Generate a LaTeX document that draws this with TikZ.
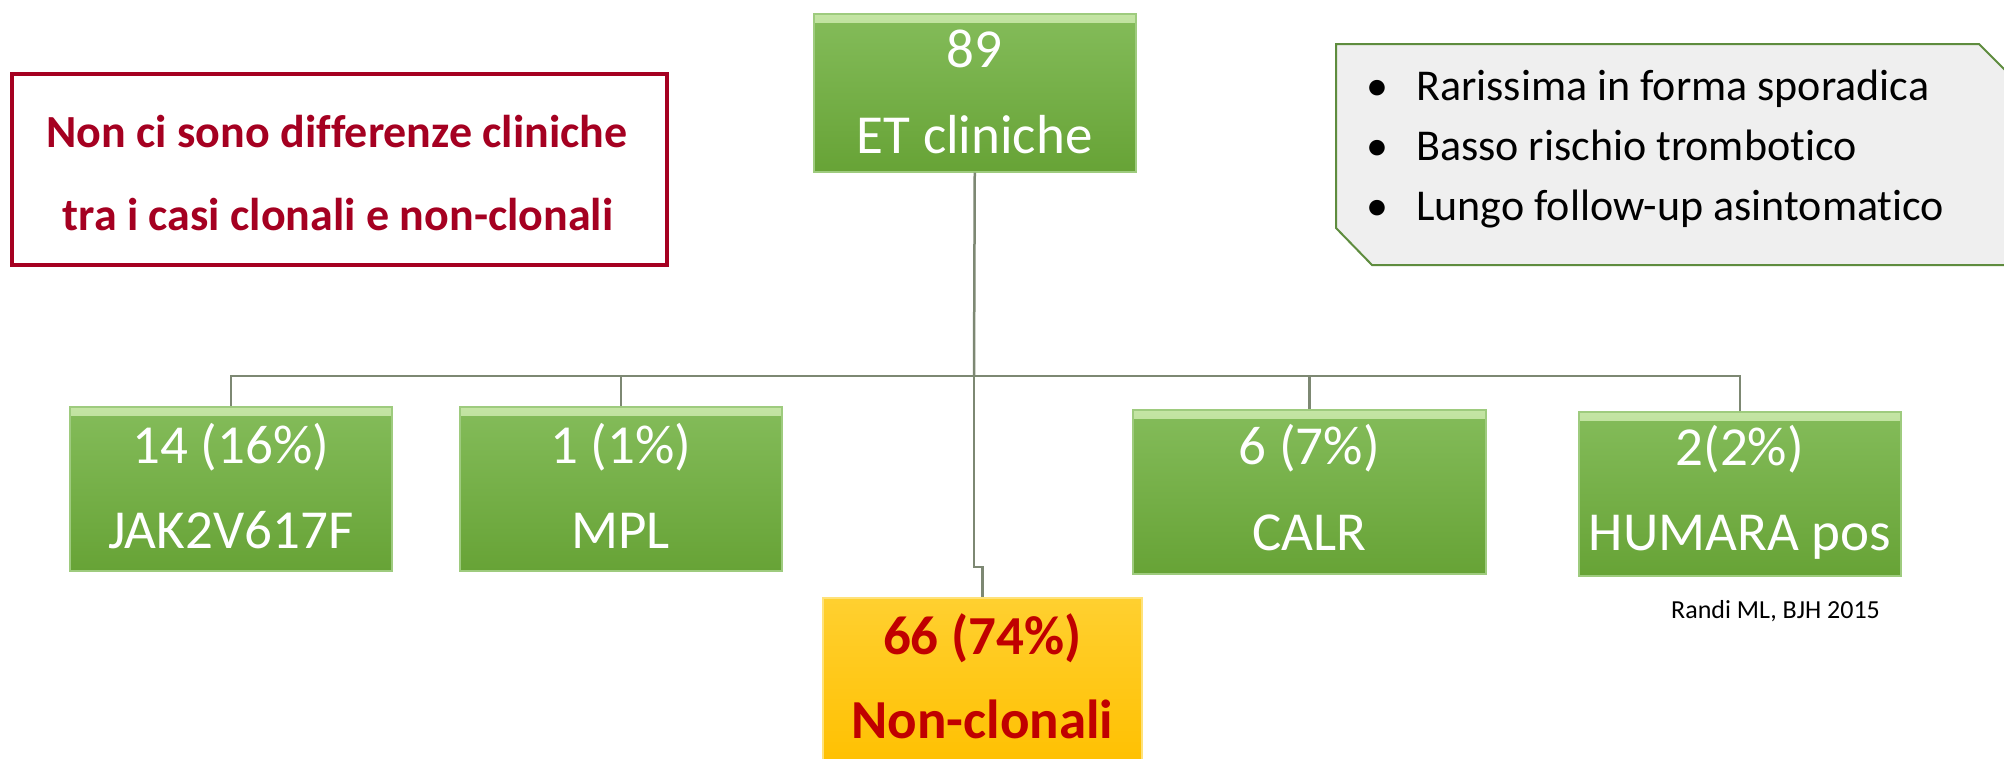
\documentclass[tikz,border=0pt]{standalone}
\usepackage{fontspec}
\setmainfont{Carlito}[Ligatures=NoCommon]
\usetikzlibrary{calc}
\definecolor{gtop}{HTML}{84BC5A}
\definecolor{gbot}{HTML}{67A336}
\definecolor{ghi}{HTML}{C4E5A4}
\definecolor{gline}{HTML}{9ECB7E}
\definecolor{ylw}{HTML}{FFC000}
\definecolor{ylwtop}{HTML}{FFD030}
\definecolor{yline}{HTML}{FFE27A}
\definecolor{dred}{HTML}{C00000}
\definecolor{crim}{HTML}{A50021}
\definecolor{conncol}{HTML}{7D8873}
\definecolor{boxgray}{HTML}{EFEFEF}
\definecolor{boxgreen}{HTML}{5E8C3E}
\begin{document}
\begin{tikzpicture}[x=1pt,y=-1pt,
  gbox/.style={draw=gline, line width=1.5pt, top color=gtop, bottom color=gbot,
    minimum width=322pt, minimum height=164pt, inner sep=0pt, anchor=north west,
    path picture={\fill[top color=ghi, bottom color=gtop]
      (path picture bounding box.north west) rectangle ([yshift=-9pt]path picture bounding box.north east);}},
  ybox/.style={draw=yline, line width=1.5pt, top color=ylwtop, bottom color=ylw,
    minimum width=319pt, minimum height=170pt, inner sep=0pt, anchor=north west},
  wtext/.style={text=white, font=\fontsize{55}{60}\selectfont, anchor=base, inner sep=0pt},
  rtext/.style={text=dred, font=\fontsize{55}{60}\selectfont\bfseries, anchor=base, inner sep=0pt},
  ntext/.style={text=crim, font=\fontsize{46}{50}\selectfont\bfseries, anchor=base, inner sep=0pt},
  btext/.style={text=black, font=\fontsize{44}{50}\selectfont, anchor=base west, inner sep=0pt},
  cn/.style={draw=conncol, line width=2.5pt}
]
\useasboundingbox (0,0) rectangle (2004,758);
\clip (0,0) rectangle (2004,758);
\fill[white] (0,0) rectangle (2004,758);

% boxes (geometry)
\node[gbox, minimum height=158pt] (et) at (813,13) {};
\node[gbox] (jak) at (69,406) {};
\node[gbox] (mpl) at (459,406) {};
\node[gbox, minimum width=353pt] (calr) at (1132,409) {};
\node[gbox] (hum) at (1578,411) {};
\node[ybox] (non) at (822,597) {};

% connectors
\coordinate (bus) at (974,376);
\coordinate (jog) at (974,567);
\draw[cn] (et.south) -- (bus);
\draw[cn] (jak.north) |- (bus);
\draw[cn] (mpl.north) |- (bus);
\draw[cn] (calr.north) |- (bus);
\draw[cn] (hum.north) |- (bus);
\draw[cn] (bus) -- (jog) -| (non.north);

% texts in boxes
\node[wtext] (et1) at ($(et.north)+(0,54)$) {89};
\node[wtext] (et2) at ($(et.north)+(0,140)$) {ET cliniche};
\node[wtext] (jak1) at ($(jak.north)+(0,57)$) {14 (16\%)};
\node[wtext] (jak2) at ($(jak.north)+(0,142)$) {JAK2V617F};
\node[wtext] (mpl1) at ($(mpl.north)+(0,57)$) {1 (1\%)};
\node[wtext] (mpl2) at ($(mpl.north)+(0,142)$) {MPL};
\node[wtext] (calr1) at ($(calr.north)+(0,55)$) {6 (7\%)};
\node[wtext] (calr2) at ($(calr.north)+(0,141)$) {CALR};
\node[wtext] (hum1) at ($(hum.north)+(0,54)$) {2(2\%)};
\node[wtext] (hum2) at ($(hum.north)+(0,139)$) {HUMARA pos};
\node[rtext] (non1) at ($(non.north)+(0,57)$) {66 (74\%)};
\node[rtext] (non2) at ($(non.north)+(0,141)$) {Non-clonali};

% note box
\node[draw=crim, line width=4pt, minimum width=655pt, minimum height=191pt,
      inner sep=0pt, anchor=north west] (note) at (10,72) {};
\node[ntext] (note1) at (337,147) {Non ci sono differenze cliniche};
\node[ntext] (note2) at (338,230) {tra i casi clonali e non-clonali};

% bullet box
\draw[draw=boxgreen, fill=boxgray, line width=2pt]
  (1336,44) -- (1979,44) -- (2018,83) -- (2018,265) -- (1372,265) -- (1336,228) -- cycle;
\node[btext] (b1) at (1366,100) {\makebox[50pt][l]{•}Rarissima in forma sporadica};
\node[btext] (b2) at (1366,160) {\makebox[50pt][l]{•}Basso rischio trombotico};
\node[btext] (b3) at (1366,220) {\makebox[50pt][l]{•}Lungo follow-up asintomatico};

% reference
\node[font=\fontsize{26}{30}\selectfont, anchor=base west, inner sep=0pt] (ref) at (1671,618) {Randi ML, BJH 2015};
\end{tikzpicture}
\end{document}
